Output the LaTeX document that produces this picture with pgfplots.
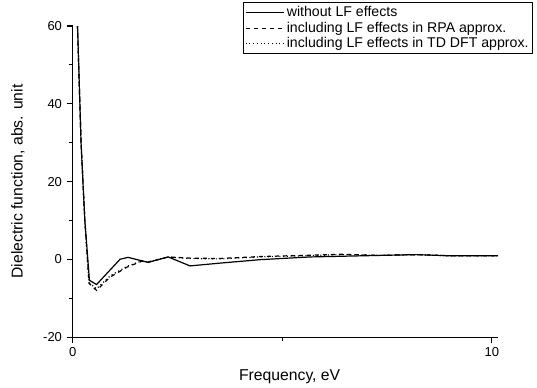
\documentclass[border=0pt]{standalone}
\usepackage{fontspec}
\setmainfont{Liberation Sans}
\usepackage{pgfplots}
\pgfplotsset{compat=1.18}
\begin{document}
\begin{tikzpicture}
\begin{axis}[
  at={(0,0)}, anchor=south west,
  scale only axis,
  width=319pt, height=233.25pt,
  xmin=0, xmax=10.15, ymin=-20, ymax=60,
  axis lines*=left,
  axis line style={line width=0.8pt},
  tick align=outside,
  major tick length=4.5pt, minor tick length=3pt,
  every tick/.style={black, line width=0.8pt},
  xtick={0,10}, ytick={-20,0,20,40,60},
  minor xtick={5}, minor ytick={-10,10,30,50},
  /pgf/number format/assume math mode=true,
  tick label style={font=\fontsize{9.75}{11}\selectfont},
  xlabel={Frequency, eV}, ylabel={Dielectric function, abs. unit},
  label style={font=\fontsize{11.8}{13}\selectfont},
  xlabel style={at={(axis description cs:0.51,-0.129)}, anchor=center},
  ylabel style={at={(axis description cs:-0.1286,0.5)}, anchor=center},
  legend cell align=left,
  legend style={at={(1.082,1.077)}, anchor=north east, draw=black, line width=0.6pt,
    font=\fontsize{10.6}{12.75}\selectfont, inner sep=1pt, row sep=-1.5pt,
    /tikz/every even column/.append style={column sep=1pt}},
  legend image code/.code={\draw[#1, line width=0.85pt] (0cm,0cm) -- (1.0cm,0cm);},
]
\addplot[black, line width=0.9pt] coordinates {
(0.11,62) (0.20,30) (0.29,10) (0.40,-5.4) (0.57,-6.5) (1.13,0) (1.32,0.5)
(1.80,-0.8) (2.28,0.6) (2.80,-1.7) (3.5,-1.0) (4.47,-0.1) (5.66,0.6)
(6.5,0.8) (7.34,1.0) (8.2,1.2) (9.0,0.9) (10.15,0.9)};
\addlegendentry{without LF effects}
\addplot[black, line width=0.9pt, dash pattern=on 3pt off 3pt] coordinates {
(0.11,62) (0.20,30) (0.29,10) (0.39,-6.2) (0.57,-8) (0.89,-4.6) (1.30,-2)
(1.65,-0.5) (1.80,-0.7) (2.28,0.6) (2.8,0.3) (3.5,0.2) (4.47,0.7) (5.5,1.0)
(6.45,1.3) (7.34,1.0) (8.2,1.2) (9.0,0.9) (10.15,0.9)};
\addlegendentry{including LF effects in RPA approx.}
\addplot[black, line width=0.9pt, dash pattern=on 0.8pt off 2pt] coordinates {
(0.11,62) (0.20,30) (0.29,10) (0.39,-6.0) (0.57,-7.6) (0.89,-4.3) (1.30,-1.8)
(1.65,-0.4) (1.80,-0.7) (2.28,0.6) (2.8,0.2) (3.5,0.1) (4.47,0.6) (5.5,0.9)
(6.45,1.2) (7.34,1.0) (8.2,1.2) (9.0,0.9) (10.15,0.9)};
\addlegendentry{including LF effects in TD DFT approx.}
\end{axis}
\pgfresetboundingbox
\path[use as bounding box] (-54.5pt,-37.5pt) rectangle (348.2pt,252.75pt);
\end{tikzpicture}
\end{document}
